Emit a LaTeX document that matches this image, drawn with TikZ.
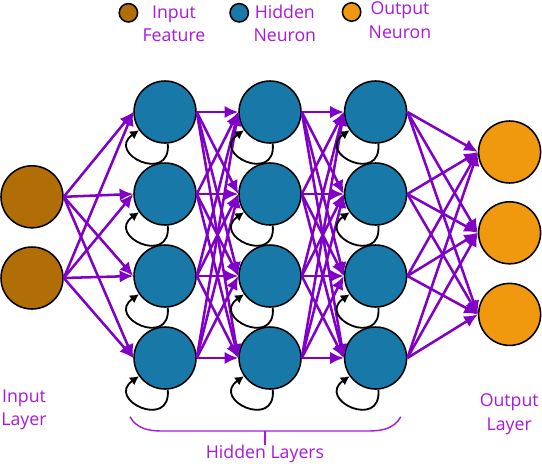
\documentclass[tikz,border=0pt]{standalone}
\usepackage{fontspec}
\setmainfont{Open Sans}
\usetikzlibrary{arrows.meta}
\definecolor{featbrown}{RGB}{178,110,6}
\definecolor{hidblue}{RGB}{24,120,168}
\definecolor{outorange}{RGB}{240,152,14}
\definecolor{edgepurple}{RGB}{128,0,200}
\definecolor{labelpurple}{RGB}{168,24,224}

\begin{document}
\begin{tikzpicture}[auto]
\tikzstyle{neuron}=[circle,draw=black,line width=1.1pt,minimum size=1.55cm,inner sep=0pt]
\tikzstyle{feat}=[neuron,fill=featbrown]
\tikzstyle{hid}=[neuron,fill=hidblue]
\tikzstyle{outp}=[neuron,fill=outorange]
\tikzstyle{dot}=[circle,draw=black,line width=1.1pt,minimum size=0.46cm,inner sep=0pt]
\tikzstyle{lbl}=[text=labelpurple,align=center,inner sep=0pt,font=\fontsize{12.6}{16.7}\selectfont]
\tikzstyle{wire}=[-{Latex[length=3.4mm,width=3.1mm]},edgepurple,line width=1.8pt]
\tikzstyle{selfloop}=[-{Latex[length=2.2mm,width=2.4mm]},black,line width=1.3pt]
\useasboundingbox (0,0) rectangle (13.55,11.65);

% legend
\node[dot,fill=featbrown](LF) at (3.21,11.33) {};
\node[dot,fill=hidblue](LH) at (5.98,11.33) {};
\node[dot,fill=outorange](LO) at (8.79,11.35) {};
\node[lbl](TF) at (4.35,11.06) {Input\\Feature};
\node[lbl](TH) at (7.12,11.06) {Hidden\\Neuron};
\node[lbl](TO) at (10.0,11.15) {Output\\Neuron};

% input layer
\node[feat](X1) at (0.8,6.73) {};
\node[feat](X2) at (0.8,4.7) {};

% hidden layers
\node[hid](A1) at (4.125,8.85) {};
\node[hid](A2) at (4.125,6.8) {};
\node[hid](A3) at (4.125,4.75) {};
\node[hid](A4) at (4.125,2.7) {};
\node[hid](B1) at (6.75,8.85) {};
\node[hid](B2) at (6.75,6.8) {};
\node[hid](B3) at (6.75,4.75) {};
\node[hid](B4) at (6.75,2.7) {};
\node[hid](C1) at (9.39,8.85) {};
\node[hid](C2) at (9.39,6.8) {};
\node[hid](C3) at (9.39,4.75) {};
\node[hid](C4) at (9.39,2.7) {};

% output layer
\node[outp](Y1) at (12.74,7.85) {};
\node[outp](Y2) at (12.74,5.83) {};
\node[outp](Y3) at (12.74,3.79) {};

\foreach \s in {X1,X2}{\foreach \t in {A1,A2,A3,A4}{\draw[wire] (\s.east) -- (\t.west);}}
\foreach \s in {A1,A2,A3,A4}{\foreach \t in {B1,B2,B3,B4}{\draw[wire] (\s.east) -- (\t.west);}}
\foreach \s in {B1,B2,B3,B4}{\foreach \t in {C1,C2,C3,C4}{\draw[wire] (\s.east) -- (\t.west);}}
\foreach \s in {C1,C2,C3,C4}{\foreach \t in {Y1,Y2,Y3}{\draw[wire] (\s.east) -- (\t.west);}}

% recurrent loops
\foreach \h in {A1,A2,A3,A4,B1,B2,B3,B4,C1,C2,C3,C4}{
\draw[selfloop] (\h.-85) to[out=-85,in=215,looseness=3.3] (\h.-145);}

\node[lbl](IL) at (0.6,1.4) {Input\\Layer};
\node[lbl](OL) at (12.73,1.3) {Output\\Layer};
\draw[labelpurple,line width=1pt] (3.25,1.23) to[out=-60,in=180] (4.05,0.875) -- (9.2,0.875) to[out=0,in=-120] (10.02,1.23);
\coordinate (BR) at (6.625,0.875);
\node[lbl](HL) at (6.625,0.3) {Hidden Layers};
\draw[labelpurple,line width=1pt] (BR) -- (HL.north);
\end{tikzpicture}
\end{document}
